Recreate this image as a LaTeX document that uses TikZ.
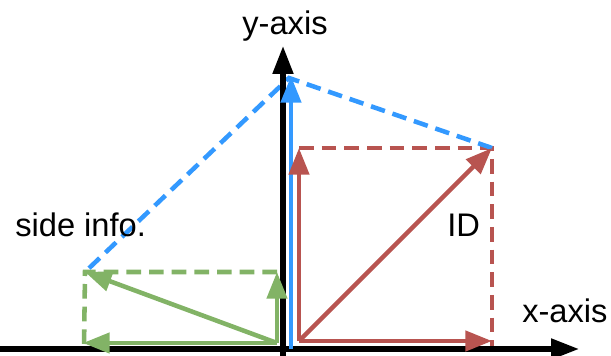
\documentclass[tikz,border=0pt]{standalone}
\usepackage{fontspec}
\setmainfont{Liberation Sans}
\usetikzlibrary{arrows.meta}
\definecolor{vblue}{HTML}{3399FF}
\definecolor{vred}{HTML}{B85450}
\definecolor{vgreen}{HTML}{82B366}
\begin{document}
\begin{tikzpicture}[x=0.75pt,y=-0.75pt,
  axisline/.style={line width=3.8pt, -{Triangle[length=21pt,width=15pt]}},
  vec/.style={line width=3.4pt, -{Triangle[length=20pt,width=15pt]}},
  guide/.style={line width=3.4pt, dash pattern=on 11pt off 6pt},
  lbl/.style={inner sep=0pt, font=\fontsize{24.5}{30}\selectfont}]
\useasboundingbox (0,0) rectangle (611,356);
% coordinates
\coordinate (xs) at (0,349);
\coordinate (xe) at (579,349);
\coordinate (ys) at (283,356);
\coordinate (ye) at (283,46);
\coordinate (bs) at (291,349);
\coordinate (be) at (291,76);
\coordinate (apex) at (289,78);
\coordinate (ro) at (299,341);
\coordinate (ru) at (299,148);
\coordinate (rr) at (492,341);
\coordinate (rc) at (492,148);
\coordinate (rb) at (492,350);
\coordinate (go) at (277,343);
\coordinate (gu) at (277,272);
\coordinate (gl) at (83,343);
\coordinate (gc) at (85,272);
\coordinate (gb) at (84,350);
% guides
\draw[guide, vred] (ru) -- (rc) -- (rb);
\draw[guide, vgreen] (gu) -- (gc) -- (gb);
\draw[guide, vblue] (rc) -- (apex) -- (gc);
% axes
\draw[axisline] (xs) -- (xe);
\draw[axisline] (ys) -- (ye);
% vectors
\draw[vec, vblue] (bs) -- (be);
\draw[vec, vred] (ro) -- (ru);
\draw[vec, vred] (ro) -- (rr);
\draw[vec, vred] (ro) -- (rc);
\draw[vec, vgreen] (go) -- (gu);
\draw[vec, vgreen] (go) -- (gl);
\draw[vec, vgreen] (go) -- (gc);
% labels
\node[lbl, anchor=base] (ylab) at (285,35) {y-axis};
\node[lbl, anchor=base west] (xlab) at (522,323) {x-axis};
\node[lbl, anchor=base west] (side) at (15,237) {side info.};
\node[lbl, anchor=base west] (id) at (447,237) {ID};
\end{tikzpicture}
\end{document}
